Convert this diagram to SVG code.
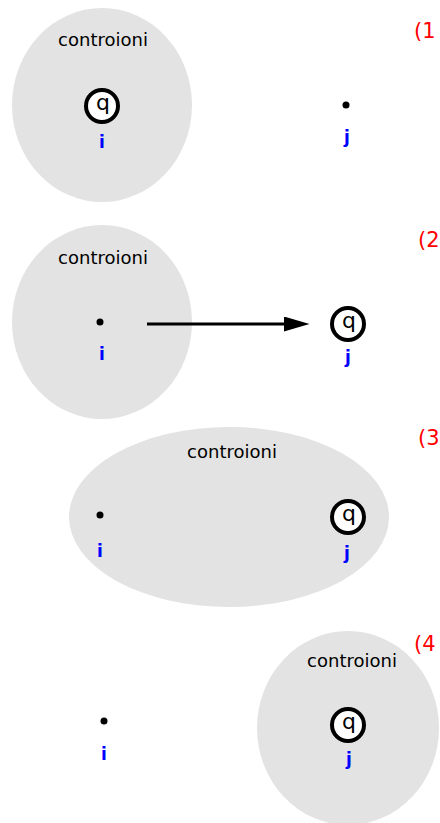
<svg xmlns="http://www.w3.org/2000/svg" width="440" height="823" viewBox="0 0 440 823">
<style>
.blob{fill:#e3e3e3}
.lbl{font-family:"DejaVu Sans",sans-serif;font-size:18px;fill:#000;text-anchor:middle}
.q{fill:#fff;stroke:#000;stroke-width:4}
.qt{font-family:"DejaVu Sans",sans-serif;font-size:22px;fill:#000;text-anchor:middle}
.idx{font-family:"DejaVu Sans",sans-serif;font-size:17px;font-weight:bold;fill:#0000ff;text-anchor:middle}
.num{font-family:"DejaVu Sans",sans-serif;font-size:21px;fill:#ff0000}
.dot{fill:#000}
</style>
<defs>
<marker id="ah" markerWidth="8.5" markerHeight="5" refX="0" refY="2.5" orient="auto" markerUnits="strokeWidth">
<path d="M0,0 L8.5,2.5 L0,5 z" fill="#000"/>
</marker>
</defs>
<g id="panel1">
<ellipse class="blob" cx="102" cy="105" rx="90" ry="97"/>
<text class="lbl" x="103" y="46">controioni</text>
<g id="p1-i"><circle class="q" cx="102" cy="106" r="16"/><text class="qt" x="103" y="110">q</text><text class="idx" x="102" y="148">i</text></g>
<g id="p1-j"><circle class="dot" cx="346" cy="105" r="3.5"/><text class="idx" x="347" y="143">j</text></g>
<text class="num" x="414" y="38">(1</text>
</g>
<g id="panel2">
<ellipse class="blob" cx="102" cy="322" rx="90" ry="97"/>
<text class="lbl" x="103" y="264">controioni</text>
<g id="p2-i"><circle class="dot" cx="100" cy="322" r="3.5"/><text class="idx" x="102" y="360">i</text></g>
<g id="p2-j"><circle class="q" cx="348" cy="324" r="16"/><text class="qt" x="349" y="328">q</text><text class="idx" x="348" y="363">j</text></g>
<text class="num" x="418" y="247">(2</text>
</g>
<g id="panel3">
<ellipse class="blob" cx="229" cy="517" rx="160" ry="90"/>
<text class="lbl" x="232" y="458">controioni</text>
<g id="p3-i"><circle class="dot" cx="100" cy="515" r="3.5"/><text class="idx" x="100" y="557">i</text></g>
<g id="p3-j"><circle class="q" cx="348" cy="517" r="16"/><text class="qt" x="349" y="521">q</text><text class="idx" x="347" y="559">j</text></g>
<text class="num" x="418" y="445">(3</text>
</g>
<g id="panel4">
<ellipse class="blob" cx="348" cy="728" rx="91" ry="97"/>
<text class="lbl" x="352" y="667">controioni</text>
<g id="p4-i"><circle class="dot" cx="104" cy="721" r="3.5"/><text class="idx" x="104" y="760">i</text></g>
<g id="p4-j"><circle class="q" cx="348" cy="725" r="16"/><text class="qt" x="349" y="729">q</text><text class="idx" x="349" y="765">j</text></g>
<text class="num" x="414" y="651">(4</text>
</g>
<g id="connectors">
<line x1="147" y1="324" x2="284" y2="324" stroke="#000" stroke-width="3" marker-end="url(#ah)"/>
</g>
</svg>
